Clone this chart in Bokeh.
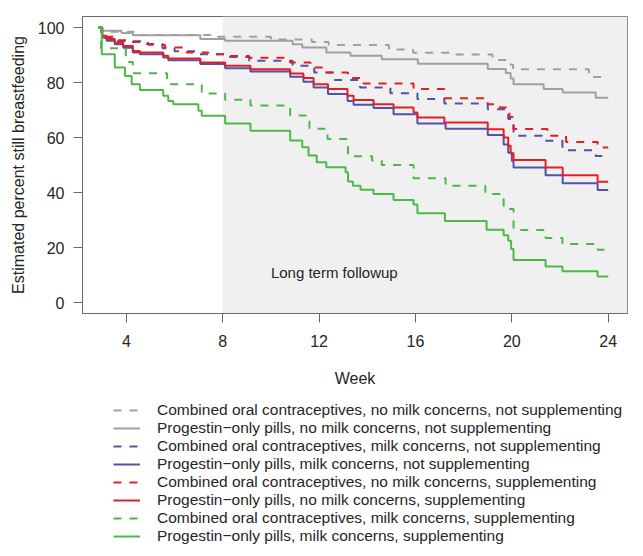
from bokeh.plotting import figure
from bokeh.models import Range1d, FixedTicker, BoxAnnotation, Label, Legend, LegendItem
from bokeh.layouts import column
from bokeh.embed import file_html
from bokeh.resources import INLINE

# ---------------- data (weeks, estimated percent still breastfeeding) ----------------
end_week = 24.0

coc_nomc_nosupp_t = [2.85, 2.95, 4.3, 7.5, 10.0, 11.7, 12.4, 14.9, 15.9, 17.5, 19.2, 19.95, 20.05, 23.2]
coc_nomc_nosupp_v = [100, 98.5, 97.3, 96.6, 95.6, 94.7, 93.6, 92.0, 90.8, 90.2, 88.2, 86.5, 84.8, 82.0]

pop_nomc_nosupp_t = [2.85, 2.98, 3.8, 4.27, 7.07, 8.1, 10.9, 11.3, 12.3, 13.3, 14.6, 16.1, 19.0, 19.75, 19.95, 20.07, 21.32, 22.11, 23.48]
pop_nomc_nosupp_v = [100, 98.8, 98.0, 97.2, 95.8, 95.2, 93.9, 92.7, 90.9, 89.7, 88.5, 86.8, 84.9, 83.5, 81.5, 79.4, 77.6, 76.4, 74.5]

coc_mc_nosupp_t = [2.85, 2.95, 3.6, 4.6, 5.5, 6.0, 7.0, 8.2, 9.1, 10.9, 11.8, 12.6, 13.7, 14.96, 16.08, 17.2, 19.0, 19.85, 20.07, 21.25, 22.1, 23.48]
coc_mc_nosupp_v = [100, 96.2, 95.0, 94.0, 92.5, 91.4, 90.3, 89.3, 87.9, 86.1, 83.6, 80.9, 78.2, 76.1, 74.0, 72.4, 70.3, 66.7, 60.6, 58.8, 55.4, 53.3]

pop_mc_nosupp_t = [2.85, 3.0, 3.18, 3.52, 3.87, 4.27, 4.56, 5.53, 5.74, 7.07, 8.1, 9.15, 10.8, 11.35, 11.77, 12.37, 13.18, 13.43, 14.26, 15.09, 16.08, 17.25, 19.0, 19.66, 19.85, 20.0, 20.07, 21.4, 22.11, 23.56]
pop_mc_nosupp_v = [100, 96.4, 95.2, 93.9, 92.6, 90.9, 90.3, 89.1, 88.1, 86.7, 85.2, 84.0, 82.1, 80.3, 78.2, 75.8, 73.3, 71.9, 70.7, 68.5, 65.1, 63.2, 60.9, 57.5, 54.5, 51.5, 49.1, 46.3, 43.4, 40.9]

coc_nomc_supp_t = [2.85, 2.95, 3.5, 4.2, 4.9, 5.6, 6.5, 7.4, 8.3, 9.1, 10.8, 11.64, 12.18, 13.2, 13.84, 15.92, 17.2, 19.0, 19.5, 19.9, 20.07, 21.48, 22.25, 23.56]
coc_nomc_supp_v = [100, 96.6, 95.4, 94.7, 93.7, 92.7, 90.9, 90.3, 89.6, 89.0, 87.3, 85.5, 83.6, 81.6, 79.6, 77.6, 74.3, 72.1, 70.9, 67.5, 63.1, 60.6, 58.4, 56.4]

pop_nomc_supp_t = [2.85, 3.0, 3.18, 3.52, 3.87, 4.27, 4.56, 5.53, 5.74, 7.07, 8.1, 9.15, 10.8, 11.35, 11.77, 12.37, 13.18, 13.43, 14.26, 15.09, 15.92, 16.08, 17.2, 19.0, 19.66, 19.85, 19.95, 20.07, 21.4, 22.11, 23.56]
pop_nomc_supp_v = [100, 97.0, 95.8, 94.5, 93.3, 91.5, 90.9, 89.7, 88.7, 87.3, 86.1, 84.8, 83.3, 81.6, 79.4, 77.6, 75.2, 73.6, 72.1, 70.9, 69.1, 67.3, 65.5, 63.0, 60.0, 57.0, 54.3, 51.8, 49.1, 46.3, 43.9]

coc_mc_supp_t = [2.85, 2.95, 3.98, 4.27, 5.69, 7.13, 8.1, 9.15, 10.8, 11.6, 12.35, 13.2, 14.2, 14.6, 15.92, 17.25, 18.9, 19.66, 20.07, 21.4, 22.1, 23.56]
coc_mc_supp_v = [100, 92.5, 87.5, 83.4, 79.4, 76.0, 73.7, 71.6, 68.0, 63.2, 59.5, 53.2, 51.6, 50.0, 45.2, 42.5, 39.5, 34.0, 26.4, 23.5, 21.3, 19.2]

pop_mc_supp_t = [2.85, 2.98, 3.52, 3.94, 4.22, 4.56, 5.53, 5.74, 5.95, 6.99, 7.13, 8.1, 9.15, 10.8, 11.3, 11.56, 11.9, 12.3, 13.1, 13.2, 13.4, 13.72, 14.26, 15.09, 15.92, 16.08, 17.22, 18.95, 19.66, 19.85, 19.97, 20.07, 21.4, 22.1, 23.56]
pop_mc_supp_v = [100, 90.3, 85.5, 82.4, 79.4, 77.3, 75.2, 73.3, 72.1, 69.7, 67.9, 65.1, 62.5, 58.9, 56.5, 53.5, 51.0, 49.2, 47.4, 44.0, 42.5, 41.0, 39.5, 37.3, 35.6, 32.5, 29.6, 26.5, 24.5, 22.5, 19.5, 15.5, 13.1, 11.4, 9.5]

series_labels = [
    "Combined oral contraceptives, no milk concerns, not supplementing",
    "Progestin\u2212only pills, no milk concerns, not supplementing",
    "Combined oral contraceptives, milk concerns, not supplementing",
    "Progestin\u2212only pills, milk concerns, not supplementing",
    "Combined oral contraceptives, no milk concerns, supplementing",
    "Progestin\u2212only pills, no milk concerns, supplementing",
    "Combined oral contraceptives, milk concerns, supplementing",
    "Progestin\u2212only pills, milk concerns, supplementing",
]
x_ticks = [4, 8, 12, 16, 20, 24]
y_ticks = [0, 20, 40, 60, 80, 100]
followup_start = 8
annotation_text = "Long term followup"

series = [
    (coc_nomc_nosupp_t, coc_nomc_nosupp_v),
    (pop_nomc_nosupp_t, pop_nomc_nosupp_v),
    (coc_mc_nosupp_t, coc_mc_nosupp_v),
    (pop_mc_nosupp_t, pop_mc_nosupp_v),
    (coc_nomc_supp_t, coc_nomc_supp_v),
    (pop_nomc_supp_t, pop_nomc_supp_v),
    (coc_mc_supp_t, coc_mc_supp_v),
    (pop_mc_supp_t, pop_mc_supp_v),
]

# ---------------- styles ----------------
GRAY = "#a0a0a0"
BLUE = "#5252a8"
RED = "#e61e24"
GREEN = "#4db848"
colors = [GRAY, GRAY, BLUE, BLUE, RED, RED, GREEN, GREEN]
dashes = ["8 8", "solid"] * 4
FONT = "Liberation Sans"
TEXT = "#262626"
AXIS = "#6a6a6a"

# ---------------- main plot ----------------
p = figure(width=635, height=400,
           x_range=Range1d(2.18, 24.8), y_range=Range1d(-4, 104),
           output_backend="svg", toolbar_location=None,
           min_border_left=82, min_border_right=8, min_border_top=16, min_border_bottom=87)
p.frame_width = 545
p.frame_height = 297
p.xgrid.visible = False
p.ygrid.visible = False
p.outline_line_color = AXIS
p.outline_line_width = 1
p.background_fill_color = "white"

p.add_layout(BoxAnnotation(left=followup_start, fill_color="#f0f0f0", fill_alpha=1.0,
                           line_alpha=0, level="underlay"))

for (t, v), c, d in zip(series, colors, dashes):
    xs = list(t) + [end_week]
    ys = list(v) + [v[-1]]
    p.step(xs, ys, mode="after", line_color=c, line_width=2, line_dash=d)

p.add_layout(Label(x=10, y=10.8, text=annotation_text, text_font=FONT, text_font_size="15px",
                   text_color=TEXT, text_baseline="middle", text_align="left"))

for ax in (p.xaxis[0], p.yaxis[0]):
    ax.axis_line_color = AXIS
    ax.major_tick_line_color = AXIS
    ax.major_tick_in = 0
    ax.major_tick_out = 9
    ax.minor_tick_line_color = None
    ax.major_label_text_font = FONT
    ax.major_label_text_font_size = "16px"
    ax.major_label_text_color = TEXT
    ax.axis_label_text_font = FONT
    ax.axis_label_text_font_size = "16px"
    ax.axis_label_text_font_style = "normal"
    ax.axis_label_text_color = TEXT

p.xaxis.ticker = FixedTicker(ticks=x_ticks)
p.yaxis.ticker = FixedTicker(ticks=y_ticks)
p.xaxis.axis_label = "Week"
p.yaxis.axis_label = "Estimated percent still breastfeeding"
p.xaxis.major_label_standoff = 12
p.xaxis.axis_label_standoff = 20
p.yaxis.major_label_standoff = 9
p.yaxis.axis_label_standoff = 8
p.yaxis.major_label_orientation = "horizontal"

# ---------------- legend panel (same series, drawn outside its visible range) ----------------
pl = figure(width=635, height=148, x_range=Range1d(0, 1), y_range=Range1d(0, 1),
            x_axis_type=None, y_axis_type=None,
            output_backend="svg", toolbar_location=None,
            min_border_left=0, min_border_right=0, min_border_top=0, min_border_bottom=0)
pl.xgrid.visible = False
pl.ygrid.visible = False
pl.outline_line_color = None
pl.background_fill_color = "white"

items = []
for (t, v), c, d, lab in zip(series, colors, dashes, series_labels):
    r = pl.step(list(t), list(v), mode="after", line_color=c, line_width=2, line_dash=d)
    items.append(LegendItem(label=lab, renderers=[r]))

legend = Legend(items=items, location=(31, 3), orientation="vertical",
                glyph_width=27, glyph_height=18, label_height=18, label_width=10,
                spacing=0, padding=0, margin=0, label_standoff=17,
                label_text_font=FONT, label_text_font_size="15.5px", label_text_color=TEXT,
                border_line_alpha=0, background_fill_alpha=0)
pl.add_layout(legend, "center")

layout = column(p, pl, spacing=0)
open("out.html", "w").write(file_html(layout, INLINE))
